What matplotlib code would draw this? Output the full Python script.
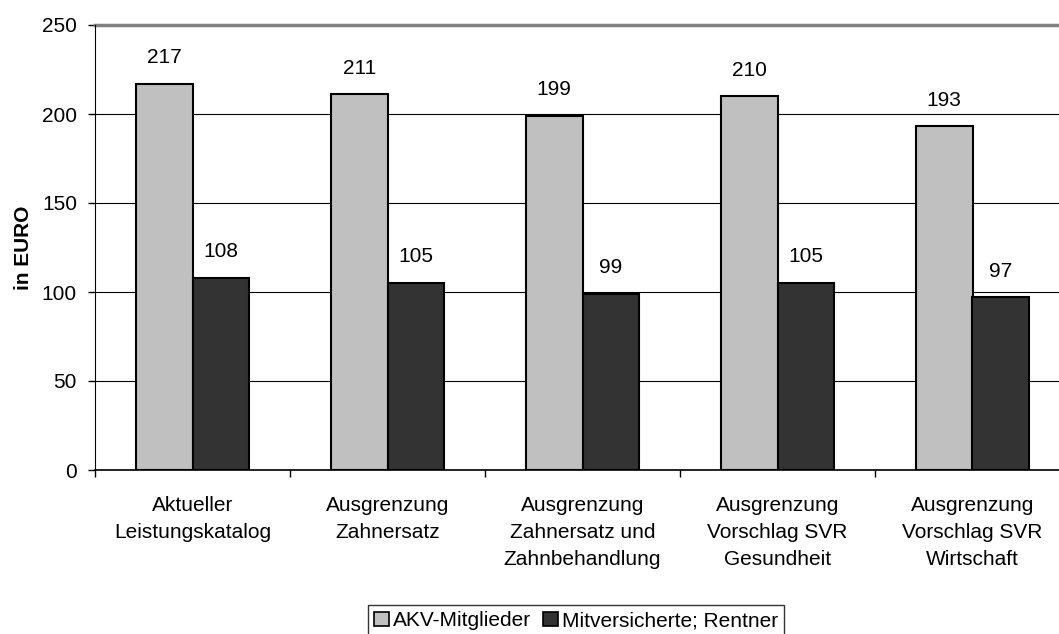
import matplotlib
matplotlib.use("Agg")
import matplotlib.pyplot as plt
import numpy as np
from matplotlib.patches import Patch

categories = ["Aktueller\nLeistungskatalog", "Ausgrenzung\nZahnersatz",
              "Ausgrenzung\nZahnersatz und\nZahnbehandlung",
              "Ausgrenzung\nVorschlag SVR\nGesundheit", "Ausgrenzung\nVorschlag SVR\nWirtschaft"]
akv = [217, 211, 199, 210, 193]
mitvers = [108, 105, 99, 105, 97]
series_names = ["AKV-Mitglieder", "Mitversicherte; Rentner"]
colors = ["#c0c0c0", "#333333"]

plt.rcParams['font.family'] = ['Liberation Sans', 'DejaVu Sans']
FS = 15

fig = plt.figure(figsize=(10.59, 6.34), dpi=100)
ax = fig.add_axes([95/1059, 1-470/634, 975/1059, 445/634])

x = np.arange(len(categories))
w = 0.29
b1 = ax.bar(x - w/2, akv, w, color=colors[0], edgecolor="black", linewidth=1.5, zorder=3)
b2 = ax.bar(x + w/2, mitvers, w, color=colors[1], edgecolor="black", linewidth=1.5, zorder=3)

for bars, vals in ((b1, akv), (b2, mitvers)):
    for r, v in zip(bars, vals):
        ax.annotate(str(v), (r.get_x() + r.get_width()/2, v), xytext=(0, 12),
                    textcoords="offset points", ha="center", va="bottom", fontsize=FS)

ax.set_xlim(-0.5, len(categories) - 0.5)
ax.set_ylim(0, 250)
ax.set_yticks(np.arange(0, 251, 50))
ax.tick_params(axis='y', labelsize=FS, length=5, width=1, direction='out', pad=8)
ax.yaxis.grid(True, color="#000000", linewidth=0.8, zorder=0)
ax.set_axisbelow(True)

ax.set_xticks(np.arange(-0.5, len(categories), 1.0))
ax.set_xticklabels([])
ax.tick_params(axis='x', which='major', length=5, width=1, direction='out')
ax.set_xticks(x, minor=True)
ax.set_xticklabels(categories, minor=True, fontsize=FS, linespacing=1.54)
ax.tick_params(axis='x', which='minor', length=0, pad=18.5)

for s in ("top", "right"):
    ax.spines[s].set_visible(False)
ax.spines["left"].set_color("black")
ax.spines["bottom"].set_color("black")
ax.spines["bottom"].set_linewidth(1.2)
ax.axhline(250, color="#808080", linewidth=2.5, zorder=1, clip_on=False)

ax.set_ylabel("in EURO", fontsize=FS, fontweight="bold", labelpad=6)

handles = [Patch(facecolor=c, edgecolor="black", linewidth=1.2) for c in colors]
leg = fig.legend(handles, series_names, loc="upper center", bbox_to_anchor=(0.544, 0.046),
                 ncol=2, fontsize=FS, frameon=True, fancybox=False, edgecolor="black",
                 handlelength=0.7, handleheight=0.7, handletextpad=0.2, columnspacing=0.6,
                 borderpad=0.3, borderaxespad=0)
leg.get_frame().set_linewidth(1.0)

fig.savefig("out.png", dpi=100)
